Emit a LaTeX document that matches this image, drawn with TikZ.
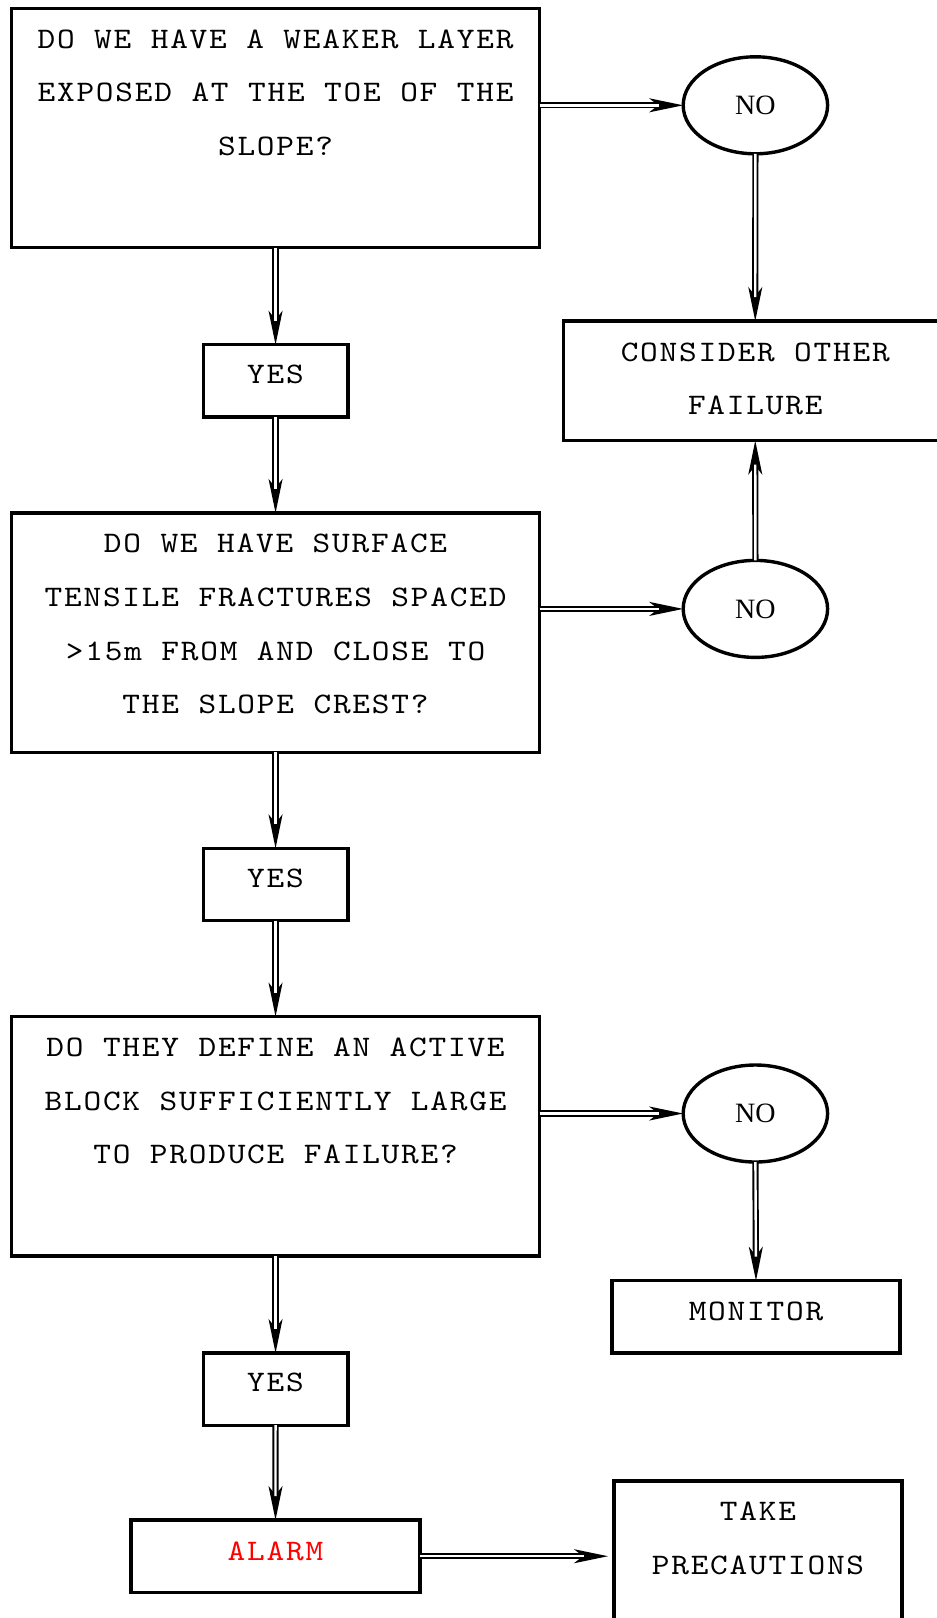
\documentclass[tikz,border=0pt]{standalone}
\usepackage{fontspec}
\usetikzlibrary{shapes.geometric,arrows.meta}
\newfontfamily\courf[FakeStretch=1.13,LetterSpace=6]{lmmono10-regular.otf}
\newfontfamily\nofont{Liberation Serif}
\begin{document}
\begin{tikzpicture}[x=1pt,y=-1pt,
  box/.style={draw, line width=3.4pt, outer sep=0pt, inner sep=0pt},
  oval/.style={ellipse, draw, line width=3.4pt, outer sep=0pt, inner sep=0pt,
    minimum width=144.4pt, minimum height=97pt, font=\nofont\fontsize{28}{32}\selectfont},
  txt/.style={anchor=north, inner sep=0pt, outer sep=0pt, align=center,
    font=\courf\fontsize{29.8}{53.6}\selectfont},
  conn/.style={line width=1.9pt, -{Stealth[length=34pt,width=14pt,inset=9pt]},
    postaction={draw, -, double, double distance=2.4pt, line width=1.9pt, shorten >=24pt}}
]
\useasboundingbox (0,0) rectangle (937,1618);
\clip (0,0) rectangle (937,1618);

% question boxes
\node[box, minimum width=528.3pt, minimum height=239.4pt] (q1) at (275.55,128) {};
\node[txt] (q1t) at ([yshift=-21.5pt]q1.north) {DO WE HAVE A WEAKER LAYER\\EXPOSED AT THE TOE OF THE\\SLOPE?};
\node[box, minimum width=528.3pt, minimum height=239.4pt] (q2) at (275.55,632.6) {};
\node[txt] (q2t) at ([yshift=-21.5pt]q2.north) {DO WE HAVE SURFACE\\TENSILE FRACTURES SPACED\\>15m FROM AND CLOSE TO\\THE SLOPE CREST?};
\node[box, minimum width=528.3pt, minimum height=239.4pt] (q3) at (275.55,1136.25) {};
\node[txt] (q3t) at ([yshift=-21.5pt]q3.north) {DO THEY DEFINE AN ACTIVE\\BLOCK SUFFICIENTLY LARGE\\TO PRODUCE FAILURE?};

% yes boxes
\node[box, minimum width=144.5pt, minimum height=72.2pt] (yes1) at (275.55,380.8) {};
\node[txt] (yes1t) at ([yshift=-20.3pt]yes1.north) {YES};
\node[box, minimum width=144.5pt, minimum height=72.2pt] (yes2) at (275.55,884.4) {};
\node[txt] (yes2t) at ([yshift=-20.3pt]yes2.north) {YES};
\node[box, minimum width=144.5pt, minimum height=72.2pt] (yes3) at (275.55,1389.1) {};
\node[txt] (yes3t) at ([yshift=-20.3pt]yes3.north) {YES};

% alarm
\node[box, minimum width=289pt, minimum height=72.4pt] (alarm) at (275.5,1556.2) {};
\node[txt, text=red] (alarmt) at ([yshift=-21.5pt]alarm.north) {ALARM};

% right column
\node[oval] (no1) at (755.4,105.3) {NO};
\node[oval] (no2) at (755.4,608.9) {NO};
\node[oval] (no3) at (755.4,1113.5) {NO};
\node[box, minimum width=383.5pt, minimum height=119.7pt] (cons) at (755.25,380.85) {};
\node[txt] (const) at ([yshift=-21.5pt]cons.north) {CONSIDER OTHER\\FAILURE};
\node[box, minimum width=288pt, minimum height=72.3pt] (mon) at (756,1316.8) {};
\node[txt] (mont) at ([yshift=-21.5pt]mon.north) {MONITOR};
\node[box, minimum width=288pt, minimum height=240pt] (take) at (758,1601) {};
\node[txt] (taket) at ([yshift=-21pt]take.north) {TAKE\\PRECAUTIONS};

% connectors
\draw[conn] (q1.east |- no1) -- (no1.west);
\draw[conn] (q1.south) -- (yes1.north);
\draw[conn] (yes1.south) -- (q2.north);
\draw[conn] (no1.south) -- (cons.north);
\draw[conn] (q2.east |- no2) -- (no2.west);
\draw[conn] (no2.north) -- (cons.south);
\draw[conn] (q2.south) -- (yes2.north);
\draw[conn] (yes2.south) -- (q3.north);
\draw[conn] (q3.east |- no3) -- (no3.west);
\draw[conn] (no3.south) -- (mon.north);
\draw[conn] (q3.south) -- (yes3.north);
\draw[conn] (yes3.south) -- (alarm.north);
\coordinate (tk) at ([xshift=-6pt]take.west |- alarm.east);
\draw[conn] (alarm.east) -- (tk);
\end{tikzpicture}
\end{document}
